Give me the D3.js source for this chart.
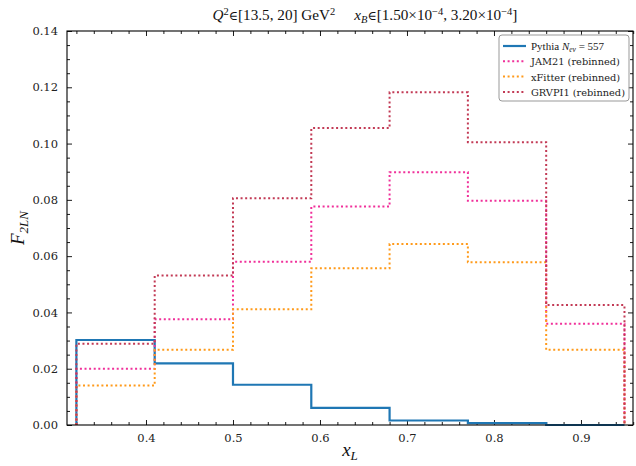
<!DOCTYPE html>
<html>
<head>
<meta charset="utf-8">
<script src="https://cdn.jsdelivr.net/npm/d3@7/dist/d3.min.js"></script>
<style>
  html, body { margin: 0; padding: 0; background: #fff; }
  svg { display: block; }
  .tick text { font-family: "DejaVu Serif", serif; font-size: 11.5px; fill: #222; }
</style>
</head>
<body>
<svg id="chart" width="636" height="466"></svg>
<script>
// Bin edges in x_L and F2 values per bin for each curve
const binEdges = [0.32, 0.41, 0.50, 0.59, 0.68, 0.77, 0.86, 0.95];
const pythiaValues  = [0.0302, 0.0219, 0.0143, 0.0061, 0.0016, 0.0007, 0.0];
const jam21Values   = [0.0200, 0.0376, 0.0580, 0.0776, 0.0898, 0.0797, 0.0360];
const xfitterValues = [0.0140, 0.0267, 0.0411, 0.0557, 0.0643, 0.0578, 0.0267];
const grvpi1Values  = [0.0289, 0.0531, 0.0806, 0.1055, 0.1182, 0.1005, 0.0426];

const xTickValues = [0.4, 0.5, 0.6, 0.7, 0.8, 0.9];
const yTickValues = [0.00, 0.02, 0.04, 0.06, 0.08, 0.10, 0.12, 0.14];

const series = [
  { name: "Pythia", values: pythiaValues, color: "#1f77b4", width: 2.2, dash: null },
  { name: "JAM21 (rebinned)", values: jam21Values, color: "#f0309a", width: 2, dash: "2,2.6" },
  { name: "xFitter (rebinned)", values: xfitterValues, color: "#ff9a1a", width: 2, dash: "2,2.6" },
  { name: "GRVPI1 (rebinned)", values: grvpi1Values, color: "#c23a55", width: 2, dash: "2,2.6" }
];

const svg = d3.select("#chart");
const plot = { left: 67, right: 633, top: 31, bottom: 425 };

const x = d3.scaleLinear().domain([0.3092, 0.9598]).range([plot.left, plot.right]);
const y = d3.scaleLinear().domain([0, 0.14]).range([plot.bottom, plot.top]);

// Minor tick positions
const xMinor = d3.range(0.32, 0.961, 0.02).map(v => +v.toFixed(3)).filter(v => !xTickValues.some(t => Math.abs(t - v) < 1e-6));
const yMinor = d3.range(0, 0.1401, 0.005).map(v => +v.toFixed(4)).filter(v => !yTickValues.some(t => Math.abs(t - v) < 1e-6));

const axes = svg.append("g");
function styleAxis(g) {
  g.select(".domain").remove();
  g.selectAll(".tick line").attr("stroke", "#000").attr("stroke-width", 0.9);
}
// bottom
axes.append("g").attr("transform", `translate(0,${plot.bottom})`)
  .call(d3.axisBottom(x).tickValues(xTickValues).tickFormat(d3.format(".1f")).tickSize(-5).tickPadding(9))
  .call(styleAxis);
axes.append("g").attr("transform", `translate(0,${plot.bottom})`)
  .call(d3.axisBottom(x).tickValues(xMinor).tickFormat("").tickSize(-3)).call(styleAxis);
// top
axes.append("g").attr("transform", `translate(0,${plot.top})`)
  .call(d3.axisTop(x).tickValues(xTickValues).tickFormat("").tickSize(-5)).call(styleAxis);
axes.append("g").attr("transform", `translate(0,${plot.top})`)
  .call(d3.axisTop(x).tickValues(xMinor).tickFormat("").tickSize(-3)).call(styleAxis);
// left
axes.append("g").attr("transform", `translate(${plot.left},0)`)
  .call(d3.axisLeft(y).tickValues(yTickValues).tickFormat(d3.format(".2f")).tickSize(-5).tickPadding(9))
  .call(styleAxis);
axes.append("g").attr("transform", `translate(${plot.left},0)`)
  .call(d3.axisLeft(y).tickValues(yMinor).tickFormat("").tickSize(-3)).call(styleAxis);
// right
axes.append("g").attr("transform", `translate(${plot.right},0)`)
  .call(d3.axisRight(y).tickValues(yTickValues).tickFormat("").tickSize(-5)).call(styleAxis);
axes.append("g").attr("transform", `translate(${plot.right},0)`)
  .call(d3.axisRight(y).tickValues(yMinor).tickFormat("").tickSize(-3)).call(styleAxis);

// Step histogram outlines
function stepPoints(values) {
  const pts = [[binEdges[0], 0]];
  values.forEach((v, i) => {
    pts.push([binEdges[i], v]);
    pts.push([binEdges[i + 1], v]);
  });
  pts.push([binEdges[binEdges.length - 1], 0]);
  return pts;
}
const line = d3.line().x(d => x(d[0])).y(d => y(d[1]));

const curves = svg.append("g");
series.forEach(s => {
  curves.append("path")
    .attr("d", line(stepPoints(s.values)))
    .attr("fill", "none")
    .attr("stroke", s.color)
    .attr("stroke-width", s.width)
    .attr("stroke-dasharray", s.dash)
    .attr("stroke-linejoin", "miter");
});

// Frame
svg.append("rect")
  .attr("x", plot.left).attr("y", plot.top)
  .attr("width", plot.right - plot.left).attr("height", plot.bottom - plot.top)
  .attr("fill", "none").attr("stroke", "#000").attr("stroke-width", 1.1);

// Title
const title = svg.append("text")
  .attr("x", 365).attr("y", 20)
  .attr("text-anchor", "middle")
  .attr("font-family", "'Liberation Serif', 'Times New Roman', serif")
  .attr("font-size", 15.2).attr("fill", "#111");
const elem = "\u2208";
title.append("tspan").attr("font-style", "italic").text("Q");
title.append("tspan").attr("font-size", 10.5).attr("dy", -5).text("2");
title.append("tspan").attr("dy", 5).attr("font-family", "'DejaVu Serif', serif").attr("font-size", 12.5).text(elem);
title.append("tspan").text("[13.5, 20] GeV");
title.append("tspan").attr("font-size", 10.5).attr("dy", -5).text("2");
title.append("tspan").attr("dy", 5).text("\u00a0\u00a0\u00a0\u00a0\u00a0");
title.append("tspan").attr("font-style", "italic").text("x");
title.append("tspan").attr("font-style", "italic").attr("font-size", 10.5).attr("dy", 3).text("B");
title.append("tspan").attr("dy", -3).attr("font-family", "'DejaVu Serif', serif").attr("font-size", 12.5).text(elem);
title.append("tspan").text("[1.50\u00d710");
title.append("tspan").attr("font-size", 10.5).attr("dy", -5).text("\u22124");
title.append("tspan").attr("dy", 5).text(", 3.20\u00d710");
title.append("tspan").attr("font-size", 10.5).attr("dy", -5).text("\u22124");
title.append("tspan").attr("dy", 5).text("]");

// Axis labels
const xl = svg.append("text")
  .attr("x", 350).attr("y", 456).attr("text-anchor", "middle")
  .attr("font-family", "'Liberation Serif', serif").attr("font-size", 19).attr("fill", "#111");
xl.append("tspan").attr("font-style", "italic").text("x");
xl.append("tspan").attr("font-style", "italic").attr("font-size", 13).attr("dy", 4).text("L");

const yl = svg.append("text")
  .attr("transform", "translate(24,228) rotate(-90)").attr("text-anchor", "middle")
  .attr("font-family", "'Liberation Serif', serif").attr("font-size", 19).attr("fill", "#111");
yl.append("tspan").attr("font-style", "italic").text("F");
yl.append("tspan").attr("font-style", "italic").attr("font-size", 13).attr("dy", 4).text("2LN");

// Legend
const lg = svg.append("g").attr("transform", "translate(499,35)");
lg.append("rect").attr("width", 130).attr("height", 66).attr("rx", 3)
  .attr("fill", "#fff").attr("fill-opacity", 0.85)
  .attr("stroke", "#999").attr("stroke-width", 1);
series.forEach((s, i) => {
  const yy = 11 + i * 15.3;
  lg.append("line").attr("x1", 4).attr("x2", 27).attr("y1", yy).attr("y2", yy)
    .attr("stroke", s.color).attr("stroke-width", s.width).attr("stroke-dasharray", s.dash);
  const t = lg.append("text").attr("x", 32).attr("y", yy + 4)
    .attr("font-size", 11).attr("fill", "#222");
  if (i === 0) {
    t.attr("font-family", "'Liberation Serif', serif");
    t.append("tspan").text("Pythia ");
    t.append("tspan").attr("font-style", "italic").text("N");
    t.append("tspan").attr("font-style", "italic").attr("font-size", 7.5).attr("dy", 2).text("ev");
    t.append("tspan").attr("dy", -2).text(" = 557");
  } else {
    t.attr("font-family", "'DejaVu Serif', serif").attr("font-size", 9.8).text(s.name);
  }
});
</script>
</body>
</html>
